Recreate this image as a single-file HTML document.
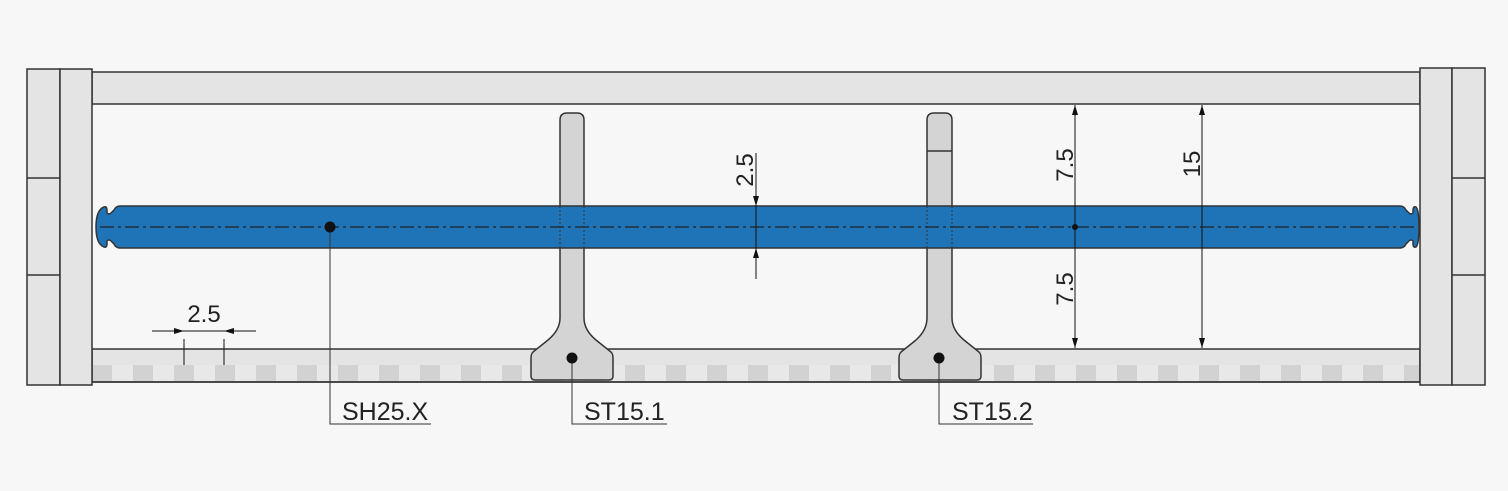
<!DOCTYPE html>
<html><head><meta charset="utf-8"><style>
html,body{margin:0;padding:0;background:#f7f7f7;}
svg{display:block;}
text{font-family:"Liberation Sans",Arial,sans-serif;fill:#222;}
</style></head><body>
<svg width="1508" height="491" viewBox="0 0 1508 491" xmlns="http://www.w3.org/2000/svg">
<defs>
<pattern id="chk" x="112" y="0" width="41" height="491" patternUnits="userSpaceOnUse">
<rect x="0" y="0" width="41" height="491" fill="#d2d2d2"/>
<rect x="0" y="0" width="21" height="491" fill="#e8e8e8"/>
</pattern>
<marker id="ar" viewBox="0 0 10 6" refX="10" refY="3" markerWidth="10" markerHeight="6" orient="auto" markerUnits="userSpaceOnUse"><path d="M0,0 L10,3 L0,6z" fill="#111"/></marker>
</defs>
<rect width="1508" height="491" fill="#f7f7f7"/>
<rect x="92" y="72" width="1328" height="32" fill="#e4e4e5" stroke="#333" stroke-width="1.5"/>
<rect x="92" y="349" width="1328" height="33" fill="#e4e4e5" stroke="#333" stroke-width="1.5"/>
<rect x="93" y="365" width="1326" height="16" fill="url(#chk)"/>
<line x1="92" y1="382" x2="1420" y2="382" stroke="#333" stroke-width="1.5"/>
<rect x="27" y="69" width="33" height="316" fill="#e4e4e5" stroke="#333" stroke-width="1.5"/>
<rect x="60" y="69" width="32" height="316" fill="#e4e4e5" stroke="#333" stroke-width="1.5"/>
<line x1="27" y1="178" x2="60" y2="178" stroke="#333" stroke-width="1.5"/>
<line x1="27" y1="275" x2="60" y2="275" stroke="#333" stroke-width="1.5"/>
<rect x="1420" y="68" width="32" height="317" fill="#e4e4e5" stroke="#333" stroke-width="1.5"/>
<rect x="1452" y="68" width="33" height="317" fill="#e4e4e5" stroke="#333" stroke-width="1.5"/>
<line x1="1452" y1="178" x2="1485" y2="178" stroke="#333" stroke-width="1.5"/>
<line x1="1452" y1="275" x2="1485" y2="275" stroke="#333" stroke-width="1.5"/>
<path d="M560,120 Q560,113 567,113 L577,113 Q584,113 584,120 L584,318 Q584,330 596,340 L611,352 Q613,354 613,358 L613,376 Q613,380 609,380 L535,380 Q531,380 531,376 L531,358 Q531,354 533,352 L548,340 Q560,330 560,318 Z" fill="#d4d4d5" stroke="#333" stroke-width="1.5"/>
<path d="M927,120 Q927,113 934,113 L945,113 Q952,113 952,120 L952,318 Q952,330 964,340 L979,352 Q981,354 981,358 L981,376 Q981,380 977,380 L903,380 Q899,380 899,376 L899,358 Q899,354 901,352 L916,340 Q927,330 927,318 Z" fill="#d4d4d5" stroke="#333" stroke-width="1.5"/>
<line x1="927" y1="151" x2="952" y2="151" stroke="#333" stroke-width="1.5"/>
<path d="M120,206 L1400,206 Q1404,206 1406,210 L1409,213 Q1411,215 1413,213 L1413,210 Q1413,206 1416,207 Q1419,210 1419,227 Q1419,244 1416,247 Q1413,248 1413,244 L1413,241 Q1411,239 1409,241 L1406,244 Q1404,248 1400,248 L120,248 Q116,248 114,244 L111,241 Q109,239 107,241 L107,244 Q107,248 104,247 Q96,244 96,227 Q96,210 104,207 Q107,206 107,210 L107,213 Q109,215 111,213 L114,210 Q116,206 120,206 Z" fill="#1f74b8" stroke="#333" stroke-width="1.5"/>
<g stroke="#333" stroke-width="1" stroke-dasharray="2,2">
<line x1="560" y1="206" x2="560" y2="248"/><line x1="584" y1="206" x2="584" y2="248"/>
<line x1="927" y1="206" x2="927" y2="248"/><line x1="952" y1="206" x2="952" y2="248"/>
</g>
<line x1="100" y1="227" x2="1416" y2="227" stroke="#222" stroke-width="1.2" stroke-dasharray="14,4,3,4"/>
<g stroke="#111" stroke-width="1" fill="none">
<line x1="756" y1="153" x2="756" y2="206" marker-end="url(#ar)"/>
<line x1="756" y1="279" x2="756" y2="248" marker-end="url(#ar)"/>
<line x1="756" y1="206" x2="756" y2="248"/>
<line x1="1075" y1="227" x2="1075" y2="105" marker-end="url(#ar)"/>
<line x1="1075" y1="227" x2="1075" y2="348" marker-end="url(#ar)"/>
<line x1="1202" y1="227" x2="1202" y2="105" marker-end="url(#ar)"/>
<line x1="1202" y1="227" x2="1202" y2="348" marker-end="url(#ar)"/>
<line x1="184" y1="339" x2="184" y2="365"/><line x1="224" y1="339" x2="224" y2="365"/>
<line x1="152" y1="331" x2="184" y2="331" marker-end="url(#ar)"/>
<line x1="256" y1="331" x2="224" y2="331" marker-end="url(#ar)"/>
<line x1="184" y1="331" x2="224" y2="331"/>
</g>
<circle cx="1075" cy="227" r="3" fill="#111"/>
<text x="204" y="322" font-size="24" text-anchor="middle">2.5</text>
<text transform="translate(753,170) rotate(-90)" font-size="24" text-anchor="middle">2.5</text>
<text transform="translate(1073,165) rotate(-90)" font-size="24" text-anchor="middle">7.5</text>
<text transform="translate(1073,289) rotate(-90)" font-size="24" text-anchor="middle">7.5</text>
<text transform="translate(1200,164) rotate(-90)" font-size="24" text-anchor="middle">15</text>
<g stroke="#333" stroke-width="1" fill="none">
<polyline points="330,227 330,424 431,424"/>
<polyline points="572,358 572,424 667,424"/>
<polyline points="939,358 939,424 1033,424"/>
</g>
<circle cx="330" cy="227" r="5.5" fill="#111"/>
<circle cx="572" cy="358" r="5.5" fill="#111"/>
<circle cx="939" cy="358" r="5.5" fill="#111"/>
<text x="342" y="420" font-size="25" fill="#1a1a1a">SH25.X</text>
<text x="584" y="420" font-size="25" fill="#1a1a1a">ST15.1</text>
<text x="952" y="420" font-size="25" fill="#1a1a1a">ST15.2</text>
</svg>
</body></html>
